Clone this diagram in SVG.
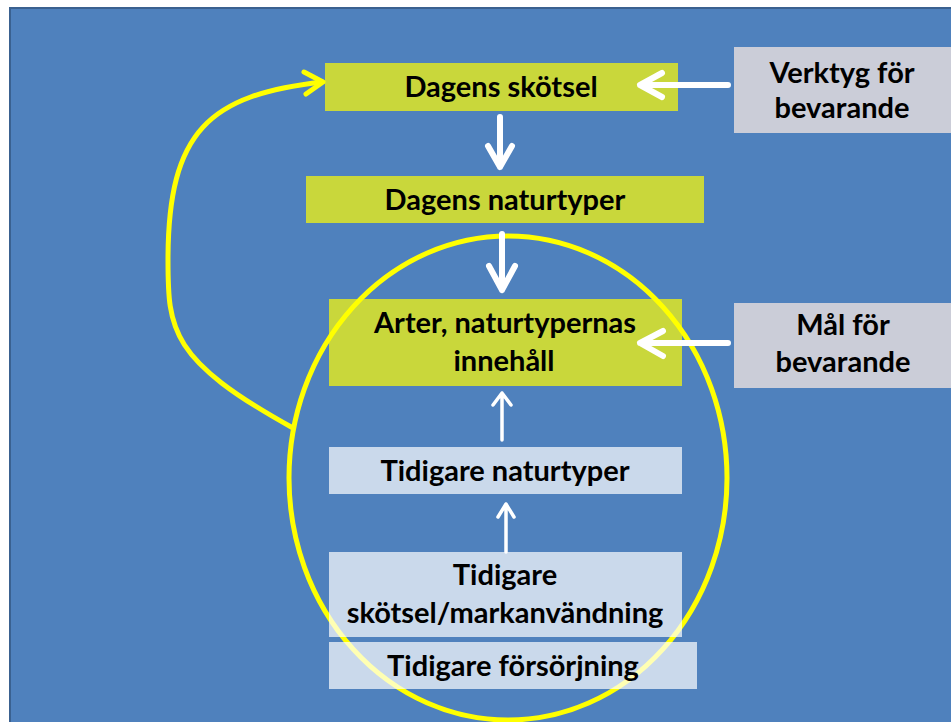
<svg xmlns="http://www.w3.org/2000/svg" width="951" height="722" viewBox="0 0 951 722">
<defs>
<style>
.bg{fill:#4F81BD;stroke:#3A6190;stroke-width:2}
.green{fill:#C9D73B}
.light{fill:#FFFFFF;fill-opacity:0.7}
.gray{fill:#CBCDD8}
.t{font-family:Lato,"Liberation Sans",sans-serif;font-weight:bold;font-size:29px;fill:#000;text-anchor:middle}
.w{fill:none;stroke:#FFFFFF;stroke-width:6;stroke-linecap:round;stroke-linejoin:round}
.wt{fill:none;stroke:#FFFFFF;stroke-width:3.5;stroke-linecap:round;stroke-linejoin:round}
.y{fill:none;stroke:#FFFF00;stroke-width:5;stroke-linecap:round;stroke-linejoin:round}
</style>
</defs>
<rect x="0" y="0" width="951" height="722" fill="#FFFFFF"/>
<rect class="bg" x="10" y="8" width="960" height="730"/>

<g id="node-dagens-skotsel">
<rect class="green" x="325" y="63" width="353" height="48"/>
<text class="t" x="501" y="97">Dagens skötsel</text>
</g>
<g id="node-dagens-naturtyper">
<rect class="green" x="306" y="176" width="398" height="47"/>
<text class="t" x="505" y="210">Dagens naturtyper</text>
</g>
<g id="node-arter">
<rect class="green" x="329" y="299" width="353" height="87"/>
</g>
<g id="node-verktyg">
<rect class="gray" x="734" y="47" width="217" height="86"/>
<text class="t" x="842" y="83">Verktyg för</text>
<text class="t" x="842" y="118">bevarande</text>
</g>
<g id="node-mal">
<rect class="gray" x="734" y="303" width="217" height="85"/>
<text class="t" x="843" y="335">Mål för</text>
<text class="t" x="843" y="372">bevarande</text>
</g>

<g id="loop">
<ellipse class="y" cx="508" cy="478" rx="219" ry="242"/>
</g>

<g id="node-arter-text">
<text class="t" x="505" y="333">Arter, naturtypernas</text>
<text class="t" x="504" y="371">innehåll</text>
</g>
<g id="node-tidigare-naturtyper">
<rect class="light" x="329" y="447" width="353" height="47"/>
<text class="t" x="505" y="481">Tidigare naturtyper</text>
</g>
<g id="node-tidigare-skotsel">
<rect class="light" x="329" y="552" width="353" height="85"/>
<text class="t" x="505" y="585">Tidigare</text>
<text class="t" x="505" y="623">skötsel/markanvändning</text>
</g>
<g id="node-tidigare-forsorjning">
<rect class="light" x="329" y="642" width="368" height="47"/>
<text class="t" x="513" y="676">Tidigare försörjning</text>
</g>

<g id="connectors">
<path class="y" d="M293 428 C170 360 168 330 168 260 C168 130 210 95 322 82"/>
<path class="y" d="M304 72 L323 82 L306 94"/>
<path class="w" d="M728 85 L640 85 M662 73 L640 85 L662 97"/>
<path class="w" d="M500 117 L500 167 M488 146 L500 167 L512 146"/>
<path class="w" d="M502 234 L502 290 M489 266 L502 290 L515 266"/>
<path class="w" d="M728 343 L640 343 M663 331 L640 343 L663 356"/>
<path class="wt" d="M502 440 L502 393 M493 405 L502 393 L511 405"/>
<path class="wt" d="M506 552 L506 504 M498 517 L506 504 L514 517"/>
</g>
</svg>
